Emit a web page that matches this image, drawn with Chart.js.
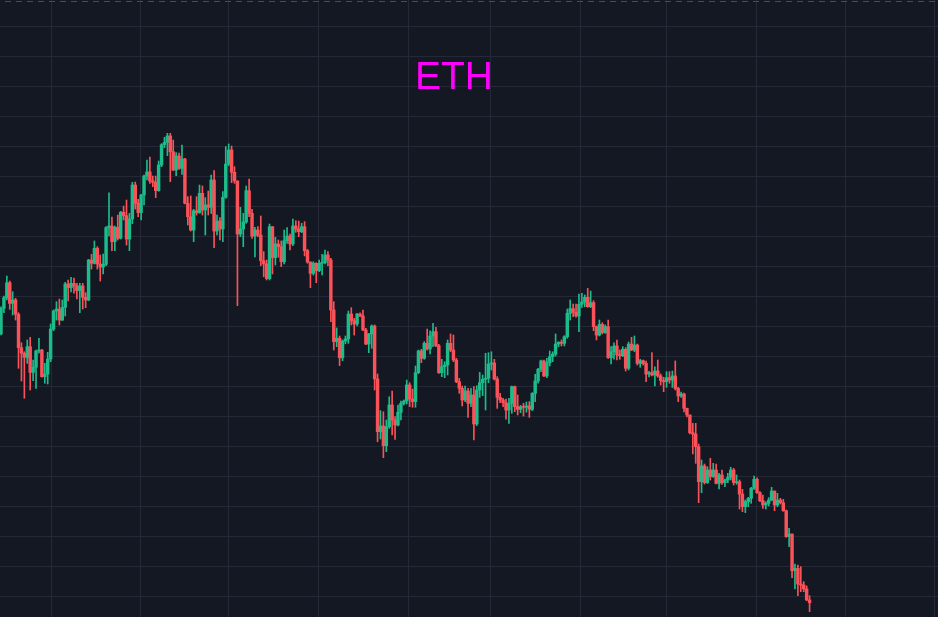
<!DOCTYPE html>
<html>
<head>
<meta charset="utf-8">
<script src="https://cdn.jsdelivr.net/npm/chart.js@4.4.1/dist/chart.umd.min.js"></script>
<style>
  html, body { margin: 0; padding: 0; background: #141823; }
  #wrap { position: relative; width: 938px; height: 617px; }
  #title {
    position: absolute; left: 0; top: 56px; width: 908px; text-align: center;
    font: 39px/39px "Liberation Sans", Arial, sans-serif; color: #ff00ff; pointer-events: none;
  }
</style>
</head>
<body>
<div id="wrap">
  <canvas id="chart" width="938" height="617"></canvas>
  <div id="title">ETH</div>
</div>
<script>
// daily ETH candles (index 0 = first visible day)
const open = [3192,
  3406,3494,3619,3447,3475,3356,3078,3031,2997,3086,
  2872,2914,3050,3058,2836,2858,2983,3233,3383,3400,
  3308,3414,3608,3578,3614,3592,3553,3592,3497,3475,
  3808,3781,3906,3775,3750,3772,4078,4092,3961,4081,
  3989,4206,4178,3983,4150,4433,4281,4203,4350,4508,
  4542,4467,4456,4386,4600,4769,4789,4842,4711,4558,
  4675,4572,4650,4281,4169,4058,4219,4203,4364,4225,
  4267,4247,4475,4050,4133,4067,4331,4608,4725,4539,
  4467,4025,4067,4125,4386,4197,4008,4058,4017,3803,
  3775,3653,4086,3828,3942,3919,3794,3969,4008,3942,
  4092,4067,4044,4086,3886,3792,3697,3781,3719,3781,
  3786,3850,3808,3392,3128,3156,2994,3133,3150,3358,
  3303,3275,3358,3342,3225,3108,3192,3258,2817,2378,
  2425,2261,2419,2600,2475,2433,2539,2614,2633,2767,
  2650,2628,2869,3050,2989,3114,3067,3175,3211,3094,
  2869,2919,2933,3114,3058,2975,2794,2739,2642,2717,
  2614,2683,2442,2725,2786,2814,2822,2942,2950,2817,
  2664,2642,2619,2558,2614,2753,2586,2564,2586,2581,
  2592,2564,2697,2800,2897,2967,2842,2953,3003,3025,
  3108,3122,3114,3169,3364,3403,3372,3342,3439,3458,
  3497,3419,3453,3253,3183,3272,3203,3253,2994,3044,
  3092,3017,3011,3064,2906,3108,3058,3100,2947,2969,
  2947,2858,2869,2850,2883,2842,2803,2794,2828,2808,
  2842,2739,2675,2692,2572,2517,2369,2358,2253,1961,
  2092,1953,2058,2003,2058,1947,2017,1953,1975,1997,
  2058,1953,1961,1858,1753,1794,1822,1906,1981,1869,
  1803,1767,1781,1808,1883,1767,1808,1786,1719,1503,
  1525,1219,1239,1108,1100,1067,975];

const close = [
  3406,3494,3619,3447,3475,3356,3078,3031,2997,3086,
  2872,2914,3050,3058,2836,2858,2983,3233,3383,3400,
  3308,3414,3608,3578,3614,3592,3553,3592,3497,3475,
  3808,3781,3906,3775,3750,3772,4078,4092,3961,4081,
  3989,4206,4178,3983,4150,4433,4281,4203,4350,4508,
  4542,4467,4456,4386,4600,4769,4789,4842,4711,4558,
  4675,4572,4650,4281,4169,4058,4219,4203,4364,4225,
  4267,4247,4475,4050,4133,4067,4331,4608,4725,4539,
  4467,4025,4067,4125,4386,4197,4008,4058,4017,3803,
  3775,3653,4086,3828,3942,3919,3794,3969,4008,3942,
  4092,4067,4044,4086,3886,3792,3697,3781,3719,3781,
  3786,3850,3808,3392,3128,3156,2994,3133,3150,3358,
  3303,3275,3358,3342,3225,3108,3192,3258,2817,2378,
  2425,2261,2419,2600,2475,2433,2539,2614,2633,2767,
  2650,2628,2869,3050,2989,3114,3067,3175,3211,3094,
  2869,2919,2933,3114,3058,2975,2794,2739,2642,2717,
  2614,2683,2442,2725,2786,2814,2822,2942,2950,2817,
  2664,2642,2619,2558,2614,2753,2586,2564,2586,2581,
  2592,2564,2697,2800,2897,2967,2842,2953,3003,3025,
  3108,3122,3114,3169,3364,3403,3372,3342,3439,3458,
  3497,3419,3453,3253,3183,3272,3203,3253,2994,3044,
  3092,3017,3011,3064,2906,3108,3058,3100,2947,2969,
  2947,2858,2869,2850,2883,2842,2803,2794,2828,2808,
  2842,2739,2675,2692,2572,2517,2369,2358,2253,1961,
  2092,1953,2058,2003,2058,1947,2017,1953,1975,1997,
  2058,1953,1961,1858,1753,1794,1822,1906,1981,1869,
  1803,1767,1781,1808,1883,1767,1808,1786,1719,1503,
  1525,1219,1239,1108,1100,1067,975,952];

const high = [
  3419,3508,3675,3633,3544,3489,3369,3119,3044,3142,
  3164,2975,3058,3156,3064,2947,3039,3275,3392,3461,
  3483,3475,3622,3642,3664,3658,3614,3614,3614,3536,
  3814,3856,3967,3919,3850,3858,4086,4369,4167,4092,
  4183,4214,4258,4308,4197,4456,4458,4314,4356,4517,
  4642,4667,4508,4508,4633,4778,4831,4864,4864,4808,
  4703,4700,4767,4656,4336,4342,4231,4336,4433,4425,
  4328,4383,4517,4553,4183,4161,4378,4753,4775,4758,
  4586,4467,4247,4197,4425,4483,4231,4081,4086,4175,
  3878,3808,4108,4086,3997,3975,3967,4058,4078,4025,
  4150,4136,4133,4114,4128,3897,3781,3794,3786,3808,
  3856,3892,3878,3822,3461,3242,3175,3142,3175,3383,
  3411,3322,3364,3369,3392,3239,3197,3267,3267,2858,
  2553,2544,2475,2669,2717,2503,2600,2633,2642,2808,
  2786,2733,2925,3058,3064,3128,3233,3219,3281,3247,
  3106,2981,2961,3142,3192,3183,2989,2822,2758,2758,
  2739,2739,2753,2761,2872,2850,3031,3036,3044,2981,
  2836,2697,2656,2650,2656,2758,2758,2683,2597,2614,
  2625,2628,2703,2856,2906,2975,2975,2989,3050,3044,
  3192,3128,3142,3178,3400,3475,3442,3442,3525,3531,
  3517,3572,3550,3469,3258,3308,3286,3267,3308,3086,
  3119,3142,3058,3086,3078,3125,3164,3175,3108,2981,
  2975,2967,2880,3036,2919,2975,2858,2831,2878,2878,
  2883,2967,2747,2708,2700,2575,2517,2447,2447,2275,
  2142,2108,2086,2156,2114,2108,2031,2058,1983,2031,
  2081,2072,2017,1975,1897,1808,1831,1914,2008,1994,
  1878,1850,1794,1828,1914,1883,1864,1822,1814,1725,
  1572,1525,1275,1267,1253,1128,1092,1011];

const low = [
  3183,3369,3475,3397,3350,3308,2906,2800,2656,2947,
  2725,2803,2739,3031,2831,2781,2775,2961,3219,3308,
  3267,3303,3342,3467,3542,3531,3483,3369,3400,3411,
  3469,3733,3775,3733,3633,3692,3761,4008,3886,3886,
  3975,3983,4142,3933,3886,4111,4233,4169,4142,4267,
  4475,4447,4419,4328,4381,4586,4744,4678,4461,4553,
  4511,4564,4522,4275,4100,4050,3961,4183,4197,4183,
  4017,4183,4197,3911,4017,3975,3961,4322,4594,4453,
  4447,3428,4003,3919,4114,4169,3989,3833,4003,3761,
  3669,3642,3642,3692,3767,3831,3753,3775,3947,3892,
  3928,4039,4003,4036,3842,3781,3578,3683,3619,3711,
  3683,3775,3761,3294,3058,3086,2928,2969,3110,3114,
  3267,3183,3258,3336,3219,3103,3036,3072,2725,2294,
  2317,2161,2211,2406,2350,2314,2425,2475,2600,2608,
  2586,2581,2581,2861,2953,2981,3058,3025,3086,3086,
  2864,2836,2828,2850,3044,2961,2786,2697,2592,2628,
  2497,2586,2308,2428,2664,2678,2558,2786,2892,2808,
  2572,2619,2586,2481,2447,2531,2544,2517,2536,2508,
  2540,2497,2553,2628,2781,2878,2836,2828,2925,2961,
  3008,3086,3092,3092,3156,3308,3336,3331,3211,3414,
  3419,3414,3411,3219,3142,3175,3192,3197,2989,2942,
  2981,2975,2981,3003,2883,2892,3053,3044,2933,2914,
  2933,2794,2835,2842,2758,2831,2767,2711,2747,2781,
  2747,2725,2628,2664,2542,2500,2358,2192,2114,1786,
  1869,1942,1947,1975,1997,1942,1900,1939,1919,1953,
  1975,1933,1939,1733,1711,1703,1753,1781,1897,1864,
  1794,1739,1733,1758,1803,1719,1753,1775,1714,1497,
  1419,1161,1067,1011,1044,1044,969,878];

// month boundaries (in candle-index units) and price grid levels
const monthTicks = [17.13, 47.96, 77.77, 108.77, 139.6, 167.69, 198.36, 228.16, 258.99, 289.14, 319.97];
const priceTicks = [1000, 1250, 1500, 1750, 2000, 2250, 2500, 2750, 3000, 3250, 3500, 3750, 4000, 4250, 4500, 4750, 5000, 5250, 5500, 5750];

const UP = '#1cbc8b';
const DOWN = '#fa5259';
const GRID = '#242837';

const colors = close.map((c, i) => c >= open[i] ? UP : DOWN);
const bodies = close.map((c, i) => ({ x: i, y: [open[i], c] }));
const wicks = close.map((c, i) => ({
  x: i,
  y: [Math.min(low[i], open[i], c), Math.max(high[i], open[i], c)]
}));

// dashed line along the top edge
const topLine = {
  id: 'topLine',
  afterDraw(chart) {
    const ctx = chart.ctx;
    ctx.save();
    ctx.strokeStyle = '#2c5479';
    ctx.lineWidth = 1;
    ctx.setLineDash([6, 5]);
    ctx.lineDashOffset = 6;
    ctx.beginPath();
    ctx.moveTo(0, 1.5);
    ctx.lineTo(chart.width, 1.5);
    ctx.stroke();
    ctx.restore();
  }
};

new Chart(document.getElementById('chart'), {
  type: 'bar',
  data: {
    datasets: [
      { label: 'body', data: bodies, backgroundColor: colors, borderWidth: 0,
        barThickness: 2.8, minBarLength: 1, grouped: false, order: 0 },
      { label: 'wick', data: wicks, backgroundColor: colors, borderWidth: 0,
        barThickness: 1, grouped: false, order: 1 }
    ]
  },
  options: {
    responsive: false,
    animation: false,
    devicePixelRatio: 1,
    layout: { padding: 0 },
    plugins: { legend: { display: false }, tooltip: { enabled: false }, title: { display: false } },
    scales: {
      x: {
        type: 'linear', min: -0.3426, max: 321.0, offset: false,
        grid: { color: GRID, drawTicks: false, offset: false },
        border: { display: false },
        ticks: { display: false },
        afterBuildTicks: s => { s.ticks = monthTicks.map(v => ({ value: v })); }
      },
      y: {
        min: 833.33, max: 5975,
        grid: { color: GRID, drawTicks: false },
        border: { display: false },
        ticks: { display: false },
        afterBuildTicks: s => { s.ticks = priceTicks.map(v => ({ value: v })); }
      }
    }
  },
  plugins: [topLine]
});
</script>
</body>
</html>
